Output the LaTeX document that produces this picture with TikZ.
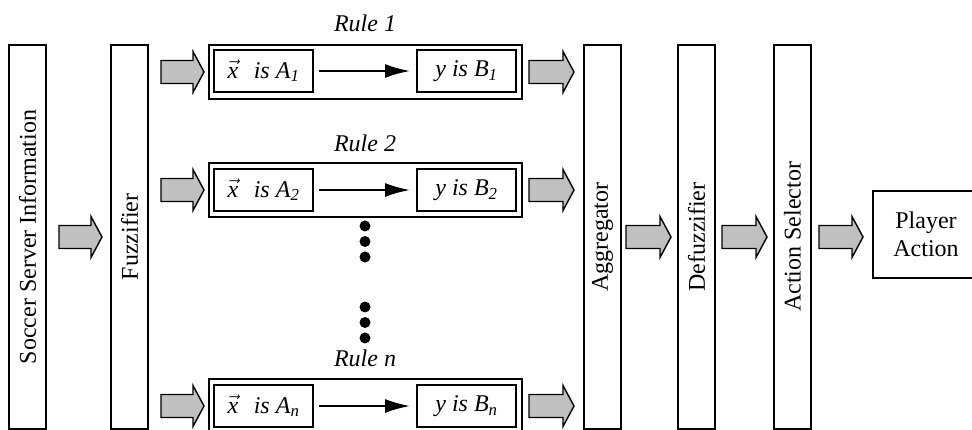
\documentclass[tikz,border=0pt]{standalone}
\usepackage{fontspec}
\setmainfont{Liberation Serif}
\usetikzlibrary{arrows.meta,calc}
\definecolor{arrgray}{RGB}{192,192,192}
\newcommand{\vx}{$\vec{\textit{x}}$}
\begin{document}
\begin{tikzpicture}[x=1pt,y=-1pt,
  bar/.style={draw, line width=1.8pt, minimum width=37pt, minimum height=384pt, inner sep=0pt, outer sep=0pt},
  vtext/.style={rotate=90, font=\fontsize{24}{28}\selectfont, inner sep=0pt},
  rulebox/.style={draw, line width=1.2pt, minimum width=313pt, minimum height=54pt, inner sep=0pt, outer sep=0pt},
  condbox/.style={draw, line width=1.8pt, minimum width=99pt, minimum height=42pt, inner sep=0pt, outer sep=0pt, font=\itshape\fontsize{24}{28}\selectfont},
  rulelabel/.style={font=\itshape\fontsize{24}{28}\selectfont, inner sep=0pt},
  dot/.style={circle, fill=black, minimum size=11pt, inner sep=0pt},
  implies/.style={-{Latex[length=25pt,width=14pt]}, line width=2pt, shorten <=6pt, shorten >=7pt},
  blockto/.style 2 args={draw=black, line width=1.4pt, fill=arrgray, line join=miter,
    to path={let \p1=(\tikztostart), \p2=(\tikztotarget) in
      (\x1+#1,\y1+11.5pt) -- (\x2-#2-11pt,\y1+11.5pt) -- (\x2-#2-11pt,\y1+20.5pt) -- (\x2-#2,\y1)
      -- (\x2-#2-11pt,\y1-20.5pt) -- (\x2-#2-11pt,\y1-11.5pt) -- (\x1+#1,\y1-11.5pt) -- cycle}}
]
\useasboundingbox (0,0) rectangle (972,430);
\clip (0,0) rectangle (972,430);

% bars
\node[bar] (soccer) at (27.5,237) {};
\node[bar] (fuzz) at (129.5,237) {};
\node[bar] (agg) at (602.5,237) {};
\node[bar] (def) at (696.5,237) {};
\node[bar] (act) at (792.5,237) {};
\node[vtext] (soccerT) at (soccer) {Soccer Server Information};
\node[vtext] (fuzzT) at (fuzz) {Fuzzifier};
\node[vtext] (aggT) at (agg) {Aggregator};
\node[vtext] (defT) at (def) {Defuzzifier};
\node[vtext] (actT) at (act) {Action Selector};

% player action
\node[draw, line width=1.8pt, minimum width=106pt, minimum height=87pt, inner sep=0pt, outer sep=0pt,
  align=center, font=\fontsize{24}{28}\selectfont] (player) at (926,234.5) {Player\\Action};

% rules
\node[rulelabel] (l1) at (365,23) {Rule 1};
\node[rulebox] (rule1) at (365.5,72) {};
\node[condbox] (a1) at (263.5,71) {\vx\hspace{0.4em} is A\textsubscript{1}};
\node[condbox] (b1) at (466.5,71) {y is B\textsubscript{1}};

\node[rulelabel] (l2) at (365,143) {Rule 2};
\node[rulebox] (rule2) at (365.5,190) {};
\node[condbox] (a2) at (263.5,190) {\vx\hspace{0.4em} is A\textsubscript{2}};
\node[condbox] (b2) at (466.5,190) {y is B\textsubscript{2}};

\node[rulelabel] (ln) at (365,358) {Rule n};
\node[rulebox] (rulen) at (365.5,406) {};
\node[condbox] (an) at (263.5,406) {\vx\hspace{0.4em} is A\textsubscript{n}};
\node[condbox] (bn) at (466.5,406) {y is B\textsubscript{n}};

\draw[implies] (a1) -- (b1);
\draw[implies] (a2) -- (b2);
\draw[implies] (an) -- (bn);

% dots
\node[dot] (d1) at (365,226) {};
\node[dot] (d2) at (365,241.5) {};
\node[dot] (d3) at (365,257) {};
\node[dot] (d4) at (365,307) {};
\node[dot] (d5) at (365,322.5) {};
\node[dot] (d6) at (365,338) {};

% block arrows
\draw[blockto={13pt}{9pt}] (soccer.east) to (fuzz.west);
\draw[blockto={13pt}{5pt}] (fuzz.east |- rule1.west) to (rule1.west);
\draw[blockto={13pt}{5pt}] (fuzz.east |- rule2.west) to (rule2.west);
\draw[blockto={13pt}{5pt}] (fuzz.east |- rulen.west) to (rulen.west);
\draw[blockto={7pt}{10pt}] (rule1.east) to (agg.west |- rule1.east);
\draw[blockto={7pt}{10pt}] (rule2.east) to (agg.west |- rule2.east);
\draw[blockto={7pt}{10pt}] (rulen.east) to (agg.west |- rulen.east);
\draw[blockto={5pt}{7pt}] (agg.east) to (def.west);
\draw[blockto={7pt}{7pt}] (def.east) to (act.west);
\draw[blockto={8pt}{10pt}] (act.east) to (player.west |- act.east);
\end{tikzpicture}
\end{document}
